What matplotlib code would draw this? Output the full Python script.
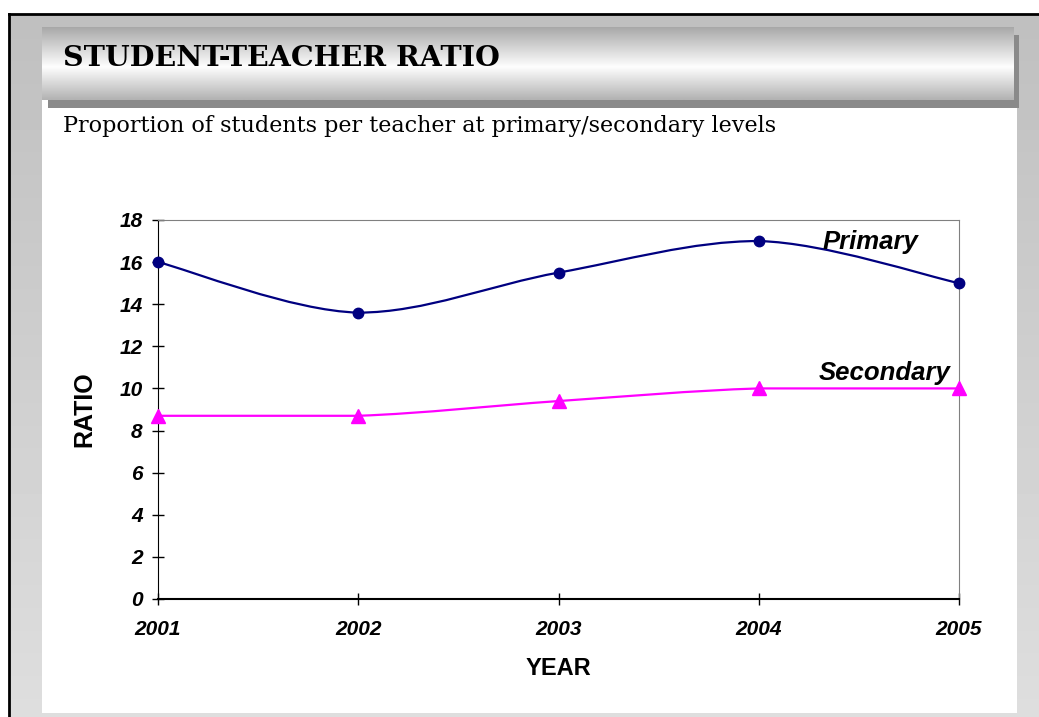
import matplotlib
matplotlib.use('Agg')
import matplotlib.pyplot as plt
import numpy as np
from matplotlib.path import Path
from matplotlib.patches import PathPatch, Rectangle

years = [2001, 2002, 2003, 2004, 2005]
primary = [16.0, 13.6, 15.5, 17.0, 15.0]
secondary = [8.7, 8.7, 9.4, 10.0, 10.0]
y_ticks = [0, 2, 4, 6, 8, 10, 12, 14, 16, 18]

title = 'STUDENT-TEACHER RATIO'
subtitle = 'Proportion of students per teacher at primary/secondary levels'

plt.rcParams['font.family'] = ['Liberation Sans', 'DejaVu Sans']


def smooth_path(xs, ys):
    # bezier control points, excel-style smoothed line (no overshoot)
    pts = np.column_stack([xs, ys]).astype(float)
    n = len(pts)
    verts = [pts[0]]
    codes = [Path.MOVETO]
    for i in range(n - 1):
        p_prev = pts[i - 1] if i > 0 else pts[i]
        p_next2 = pts[i + 2] if i + 2 < n else pts[i + 1]
        c1 = pts[i] + (pts[i + 1] - p_prev) / 6
        c2 = pts[i + 1] - (p_next2 - pts[i]) / 6
        lo = min(pts[i][1], pts[i + 1][1])
        hi = max(pts[i][1], pts[i + 1][1])
        c1[1] = min(max(c1[1], lo), hi)
        c2[1] = min(max(c2[1], lo), hi)
        verts += [c1, c2, pts[i + 1]]
        codes += [Path.CURVE4] * 3
    return Path(verts, codes)


fig = plt.figure(figsize=(10.39, 7.17), dpi=100)

# background frame in pixel coords
bg = fig.add_axes([0, 0, 1, 1])
bg.set_xlim(0, 1039)
bg.set_ylim(717, 0)
bg.axis('off')

grad = np.linspace(0.75, 0.87, 200)[:, None] * np.ones((1, 2))
bg.imshow(grad, cmap='gray', vmin=0, vmax=1, extent=(9, 1039, 717, 14),
          aspect='auto', origin='upper', interpolation='bilinear')
bg.plot([9, 1039], [14, 14], color='black', lw=2)
bg.plot([9, 9], [14, 717], color='black', lw=2)

bg.add_patch(Rectangle((42, 100), 975, 613, facecolor='white', edgecolor='none'))
bg.add_patch(Rectangle((48, 100), 971, 8, facecolor='#8a8a8a', edgecolor='none'))
bg.add_patch(Rectangle((1014, 35), 5, 73, facecolor='#8a8a8a', edgecolor='none'))

band = np.concatenate([np.linspace(0.66, 0.99, 40), np.linspace(0.99, 0.70, 33)])
band = band[:, None] * np.ones((1, 2))
bg.imshow(band, cmap='gray', vmin=0, vmax=1, extent=(42, 1014, 100, 27),
          aspect='auto', origin='upper', interpolation='bilinear')
bg.set_xlim(0, 1039)
bg.set_ylim(717, 0)

bg.text(63, 66, title, family='DejaVu Serif', fontsize=20.5, fontweight='bold',
        ha='left', va='baseline')
bg.text(63, 132, subtitle, family='DejaVu Serif', fontsize=16,
        ha='left', va='baseline')

# chart
ax = fig.add_axes([0.1521, 0.1646, 0.7709, 0.5286])
ax.set_facecolor('white')
ax.set_xlim(2001, 2005)
ax.set_ylim(0, 18)

ax.add_patch(PathPatch(smooth_path(years, primary), facecolor='none',
                       edgecolor='#000080', lw=1.6, clip_on=False))
ax.add_patch(PathPatch(smooth_path(years, secondary), facecolor='none',
                       edgecolor='#ff00ff', lw=1.6, clip_on=False))
ax.plot(years, primary, 'o', color='#000080', ms=7.5, clip_on=False, zorder=5)
ax.plot(years, secondary, '^', color='#ff00ff', ms=9.5, clip_on=False, zorder=5)

ax.text(2004.32, 16.62, 'Primary', fontsize=18.5, fontweight='bold',
        fontstyle='italic', ha='left', va='baseline')
ax.text(2004.30, 10.40, 'Secondary', fontsize=18.5, fontweight='bold',
        fontstyle='italic', ha='left', va='baseline')

ax.set_xticks(years)
ax.set_xticklabels([str(y) for y in years])
ax.set_yticks(y_ticks)
ax.tick_params(axis='both', direction='inout', length=8, width=1, labelsize=15)
ax.tick_params(axis='x', pad=11)
ax.tick_params(axis='y', pad=7)
for lbl in ax.get_xticklabels() + ax.get_yticklabels():
    lbl.set_fontweight('bold')
    lbl.set_fontstyle('italic')

ax.spines['left'].set_color('black')
ax.spines['bottom'].set_color('black')
ax.spines['bottom'].set_linewidth(1.5)
ax.spines['top'].set_color('#808080')
ax.spines['right'].set_color('#808080')

ax.set_xlabel('YEAR', fontsize=17, fontweight='bold', labelpad=13)
ax.set_ylabel('RATIO', fontsize=18, fontweight='bold', labelpad=17)

fig.savefig('out.png', dpi=100)
